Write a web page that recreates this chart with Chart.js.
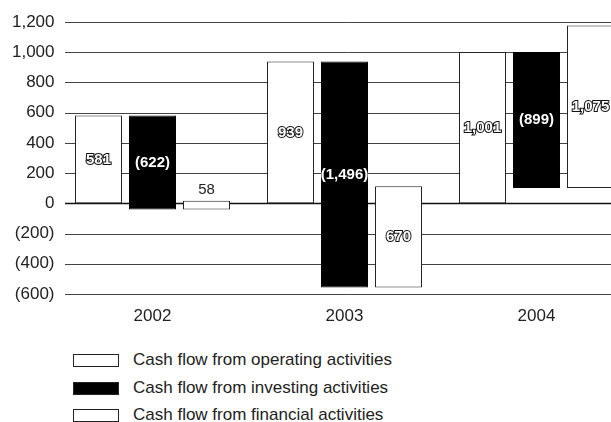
<!DOCTYPE html>
<html>
<head>
<meta charset="utf-8">
<script src="https://cdn.jsdelivr.net/npm/chart.js@4"></script>
<style>
  html, body { margin: 0; padding: 0; background: #fff; overflow: hidden; width: 611px; height: 422px; }
  #wrap { position: absolute; left: 0; top: 0; width: 640px; height: 335px; }
  #legend { position: absolute; left: 0; top: 0; font-family: "Liberation Sans", Arial, sans-serif; font-size: 17px; color: #222; }
  .item { position: absolute; left: 73px; height: 20px; display: flex; align-items: center; white-space: nowrap; }
  .box { width: 44px; height: 11px; border: 1px solid #222; margin-right: 14px; }
</style>
</head>
<body>
<div id="wrap"><canvas id="chart" width="640" height="335"></canvas></div>
<div id="legend"></div>
<script>
// values in millions
const years = ["2002", "2003", "2004"]
const operating = [581, 939, 1001]
const investing = [-622, -1496, -899]
const financial = [58, 670, 1075]
const seriesNames = [
  "Cash flow from operating activities",
  "Cash flow from investing activities",
  "Cash flow from financial activities"
]
const yTicks = [-600, -400, -200, 0, 200, 400, 600, 800, 1000, 1200]

const FONT = '"Liberation Sans", Arial, sans-serif'
const INK = "#222"

// each year's bars are stacked end to end, like a small waterfall
const opBars = operating.map(v => [0, v])
const invBars = investing.map((v, i) => [operating[i], operating[i] + v])
const finBars = financial.map((v, i) => [operating[i] + investing[i], operating[i] + investing[i] + v])
const rawValues = [operating, investing, financial]

function fmt(n) {
  const s = Math.abs(n).toLocaleString("en-US")
  return n < 0 ? "(" + s + ")" : s
}

const gridLines = {
  id: "gridLines",
  beforeDatasetsDraw(chart) {
    const { ctx, chartArea, scales: { y } } = chart
    ctx.save()
    y.ticks.forEach(t => {
      const py = Math.round(y.getPixelForValue(t.value)) + 0.5
      ctx.strokeStyle = t.value === 0 ? "#111" : "#444"
      ctx.lineWidth = t.value === 0 ? 1.6 : 1
      ctx.beginPath()
      ctx.moveTo(chartArea.left + 8.5, py)
      ctx.lineTo(chartArea.right, py)
      ctx.stroke()
    })
    ctx.restore()
  }
}

const barLabels = {
  id: "barLabels",
  afterDatasetsDraw(chart) {
    const { ctx } = chart
    ctx.save()
    ctx.textAlign = "center"
    ctx.textBaseline = "middle"
    chart.data.datasets.forEach((ds, di) => {
      chart.getDatasetMeta(di).data.forEach((bar, i) => {
        const text = fmt(rawValues[di][i])
        const h = Math.abs(bar.base - bar.y)
        const cy = (bar.y + bar.base) / 2
        if (h < 24) {
          ctx.font = "15px " + FONT
          ctx.fillStyle = INK
          ctx.fillText(text, bar.x, Math.min(bar.y, bar.base) - 11)
        } else if (ds.backgroundColor === "#000") {
          ctx.font = "bold 15px " + FONT
          ctx.fillStyle = "#fff"
          ctx.fillText(text, bar.x, cy)
        } else {
          // hollow lettering on the white bars
          ctx.font = "bold 15px " + FONT
          ctx.lineWidth = 2
          ctx.strokeStyle = "#111"
          ctx.strokeText(text, bar.x, cy)
          ctx.fillStyle = "#fff"
          ctx.fillText(text, bar.x, cy)
        }
      })
    })
    ctx.restore()
  }
}

const chart = new Chart(document.getElementById("chart"), {
  type: "bar",
  data: {
    labels: years,
    datasets: [
      { label: seriesNames[0], data: opBars, backgroundColor: "#fff", borderColor: "#222", borderWidth: 1, borderSkipped: false },
      { label: seriesNames[1], data: invBars, backgroundColor: "#000", borderColor: "#000", borderWidth: 1, borderSkipped: false },
      { label: seriesNames[2], data: finBars, backgroundColor: "#fff", borderColor: "#222", borderWidth: 1, borderSkipped: false }
    ]
  },
  options: {
    responsive: false,
    devicePixelRatio: 1,
    animation: false,
    categoryPercentage: 0.844,
    barPercentage: 0.87,
    layout: { padding: { top: 22, right: 7.5, left: 0, bottom: 0 } },
    plugins: { legend: { display: false }, tooltip: { enabled: false } },
    scales: {
      x: {
        grid: { display: false, drawTicks: false },
        border: { display: false },
        ticks: { color: INK, font: { family: FONT, size: 17 }, padding: 12 },
        afterFit(scale) { scale.height = 41 }
      },
      y: {
        min: yTicks[0],
        max: yTicks[yTicks.length - 1],
        afterBuildTicks(scale) { scale.ticks = yTicks.map(v => ({ value: v })) },
        grid: { display: false, drawTicks: false },
        border: { display: false },
        ticks: { color: INK, font: { family: FONT, size: 17 }, padding: 2, callback: v => fmt(v) },
        afterFit(scale) { scale.width = 56.5 }
      }
    }
  },
  plugins: [gridLines, barLabels]
})

// legend stacked under the chart
const rowCenters = [360, 388, 415]
const legend = document.getElementById("legend")
chart.data.datasets.forEach((ds, i) => {
  const row = document.createElement("div")
  row.className = "item"
  row.style.top = (rowCenters[i] - 10) + "px"
  const box = document.createElement("span")
  box.className = "box"
  box.style.background = ds.backgroundColor
  const label = document.createElement("span")
  label.textContent = ds.label
  row.appendChild(box)
  row.appendChild(label)
  legend.appendChild(row)
})
</script>
</body>
</html>
